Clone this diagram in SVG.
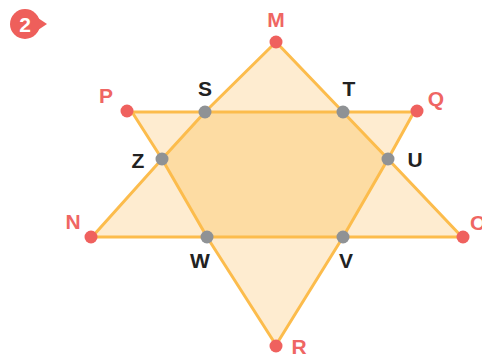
<svg xmlns="http://www.w3.org/2000/svg" width="482" height="358" viewBox="0 0 482 358">
<style>
.tri{fill:#feecd0;stroke:none}
.hex{fill:#fddca3;stroke:none}
.edge{fill:none;stroke:#fcbc4c;stroke-width:3;stroke-linejoin:round}
.rd{fill:#ef615e}
.gd{fill:#8f9295}
.lbl{font-family:"Liberation Sans",Arial,sans-serif;font-weight:bold;font-size:21px;text-anchor:middle}
.lr{fill:#ef6663}
.lk{fill:#222222}
</style>
<rect width="482" height="358" fill="#ffffff"/>
<g id="badge">
<circle cx="25" cy="24" r="15" fill="#ee5f5b"/>
<polygon points="38,18 47,24 38,30" fill="#ee5f5b"/>
<text x="25" y="31.5" class="lbl" fill="#ffffff" style="fill:#ffffff">2</text>
</g>
<g id="shapes">
<polygon class="tri" points="276,42 205,112 162,159 92,237 462,237 388,159 343,112"/>
<polygon class="tri" points="132,112 414,112 388,159 343,237 276,345 207,237 162,159"/>
<polygon class="hex" points="205,112 343,112 388,159 343,237 207,237 162,159"/>
</g>
<g id="connectors">
<polygon class="edge" points="276,42 205,112 162,159 92,237 462,237 388,159 343,112"/>
<polygon class="edge" points="132,112 414,112 388,159 343,237 276,345 207,237 162,159"/>
</g>
<g id="M"><circle class="rd" cx="276" cy="42" r="6.5"/><text class="lbl lr" x="276" y="27">M</text></g>
<g id="P"><circle class="rd" cx="127" cy="111" r="6.5"/><text class="lbl lr" x="106" y="103">P</text></g>
<g id="Q"><circle class="rd" cx="417" cy="111" r="6.5"/><text class="lbl lr" x="436" y="106">Q</text></g>
<g id="N"><circle class="rd" cx="91" cy="237" r="6.5"/><text class="lbl lr" x="73" y="229">N</text></g>
<g id="O"><circle class="rd" cx="463" cy="237" r="6.5"/><text class="lbl lr" x="470" y="230" style="text-anchor:start">O</text></g>
<g id="R"><circle class="rd" cx="276" cy="346" r="6.5"/><text class="lbl lr" x="299" y="354">R</text></g>
<g id="S"><circle class="gd" cx="205" cy="112" r="6.5"/><text class="lbl lk" x="205" y="96">S</text></g>
<g id="T"><circle class="gd" cx="343" cy="112" r="6.5"/><text class="lbl lk" x="349" y="96">T</text></g>
<g id="Z"><circle class="gd" cx="162" cy="159" r="6.5"/><text class="lbl lk" x="138" y="168">Z</text></g>
<g id="U"><circle class="gd" cx="388" cy="159" r="6.5"/><text class="lbl lk" x="415" y="167">U</text></g>
<g id="W"><circle class="gd" cx="207" cy="237" r="6.5"/><text class="lbl lk" x="200" y="268">W</text></g>
<g id="V"><circle class="gd" cx="343" cy="237" r="6.5"/><text class="lbl lk" x="346" y="268">V</text></g>
</svg>
